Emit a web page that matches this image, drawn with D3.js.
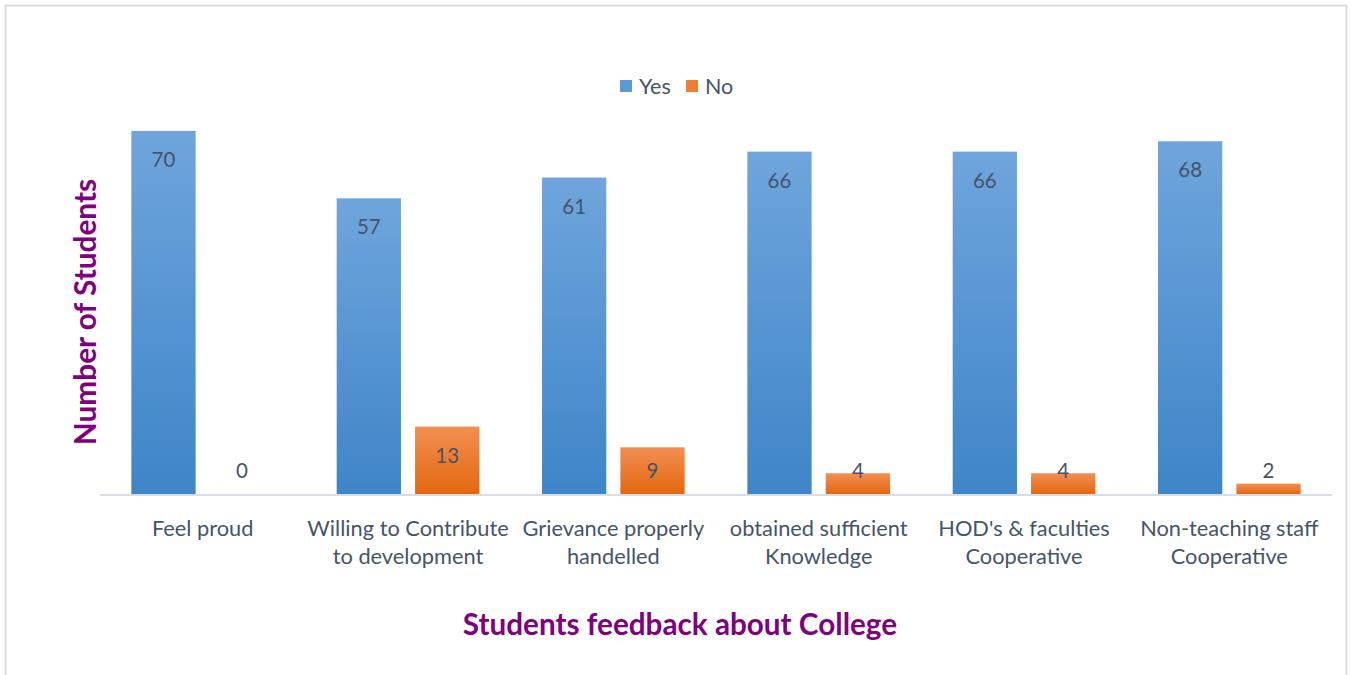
<!DOCTYPE html>
<html>
<head>
<script src="https://d3js.org/d3.v7.min.js"></script>
<style>
  body { margin: 0; background: #fff; }
  text { font-family: Lato, "Open Sans", sans-serif; }
</style>
</head>
<body>
<script>
// chart data
var categories = [
  ["Feel proud"],
  ["Willing to Contribute", "to development"],
  ["Grievance properly", "handelled"],
  ["obtained sufficient", "Knowledge"],
  ["HOD's & faculties", "Cooperative"],
  ["Non-teaching staff", "Cooperative"]
];
var seriesNames = ["Yes", "No"];
var yesValues = [70, 57, 61, 66, 66, 68];
var noValues = [0, 13, 9, 4, 4, 2];

var W = 1350, H = 675;
var margin = {top: 79, left: 100, right: 18, bottom: 181};

var svg = d3.select("body").append("svg")
  .attr("width", W)
  .attr("height", H);

// gradients for the bars
var defs = svg.append("defs");
function grad(id, c1, c2) {
  var g = defs.append("linearGradient").attr("id", id)
    .attr("x1", 0).attr("y1", 0).attr("x2", 0).attr("y2", 1);
  g.append("stop").attr("offset", "0%").attr("stop-color", c1);
  g.append("stop").attr("offset", "100%").attr("stop-color", c2);
}
grad("gYes", "#6FA5DC", "#3E85C8");
grad("gNo", "#F28F52", "#E4670F");
var fills = {Yes: "url(#gYes)", No: "url(#gNo)"};
var legendColors = {Yes: "#5B9BD5", No: "#ED7D31"};

// outer border
svg.append("path")
  .attr("d", "M5.5," + (H + 5) + "V5.5H1346.5V" + (H + 5))
  .attr("fill", "none")
  .attr("stroke", "#D9DDE6")
  .attr("stroke-width", 2);

var rows = categories.map(function(c, i) {
  return {key: i, label: c, Yes: yesValues[i], No: noValues[i]};
});

var x0 = d3.scaleBand()
  .domain(rows.map(function(d) { return d.key; }))
  .range([margin.left, W - margin.right])
  .padding(0);

var x1 = d3.scaleBand()
  .domain(seriesNames)
  .range([0, x0.bandwidth()])
  .paddingInner(0.18)
  .paddingOuter(0.4);

var y = d3.scaleLinear()
  .domain([0, 80])
  .range([H - margin.bottom, margin.top]);

var groups = svg.append("g").selectAll("g")
  .data(rows)
  .enter().append("g")
  .attr("transform", function(d) { return "translate(" + x0(d.key) + ",0)"; });

var cells = groups.selectAll("g.cell")
  .data(function(d) { return seriesNames.map(function(s) { return {s: s, v: d[s]}; }); })
  .enter().append("g").attr("class", "cell");

cells.append("rect")
  .attr("x", function(d) { return x1(d.s); })
  .attr("y", function(d) { return y(d.v); })
  .attr("width", x1.bandwidth())
  .attr("height", function(d) { return y(0) - y(d.v); })
  .attr("fill", function(d) { return fills[d.s]; });

cells.append("text")
  .attr("x", function(d) { return x1(d.s) + x1.bandwidth() / 2; })
  .attr("y", function(d) { return Math.min(y(d.v) + 29, y(0) - 23); })
  .attr("text-anchor", "middle")
  .attr("dy", "0.35em")
  .attr("font-size", 20.5)
  .attr("fill", "#44546A")
  .text(function(d) { return d.v; });

// axis line
svg.append("line")
  .attr("x1", x0.range()[0]).attr("x2", x0.range()[1])
  .attr("y1", y(0) + 1).attr("y2", y(0) + 1)
  .attr("stroke", "#D9DDE6")
  .attr("stroke-width", 2);

// category labels
var catText = svg.append("g").selectAll("text")
  .data(rows)
  .enter().append("text")
  .attr("x", function(d) { return x0(d.key) + x0.bandwidth() / 2; })
  .attr("y", 528)
  .attr("text-anchor", "middle")
  .attr("font-size", 21.8)
  .attr("fill", "#44546A");
catText.selectAll("tspan")
  .data(function(d) { return d.label; })
  .enter().append("tspan")
  .attr("x", function() { return d3.select(this.parentNode).attr("x"); })
  .attr("dy", function(d, i) { return i === 0 ? "0.35em" : 28; })
  .text(function(d) { return d; });

// legend
var legend = svg.append("g").attr("transform", "translate(620,86)");
var lx = [0, 66];
seriesNames.forEach(function(s, i) {
  legend.append("rect")
    .attr("x", lx[i]).attr("y", -6)
    .attr("width", 12).attr("height", 12)
    .attr("fill", legendColors[s]);
  legend.append("text")
    .attr("x", lx[i] + 19).attr("y", 0)
    .attr("dy", "0.35em")
    .attr("font-size", 21.5)
    .attr("fill", "#44546A")
    .text(s);
});

// axis titles
svg.append("text")
  .attr("x", 680).attr("y", 625)
  .attr("text-anchor", "middle")
  .attr("dy", "0.35em")
  .attr("font-size", 29.7)
  .attr("font-weight", "bold")
  .attr("fill", "#800080")
  .text("Students feedback about College");

svg.append("text")
  .attr("transform", "translate(86,312) rotate(-90)")
  .attr("text-anchor", "middle")
  .attr("dy", "0.35em")
  .attr("font-size", 29.8)
  .attr("font-weight", "bold")
  .attr("fill", "#800080")
  .text("Number of Students");
</script>
</body>
</html>
